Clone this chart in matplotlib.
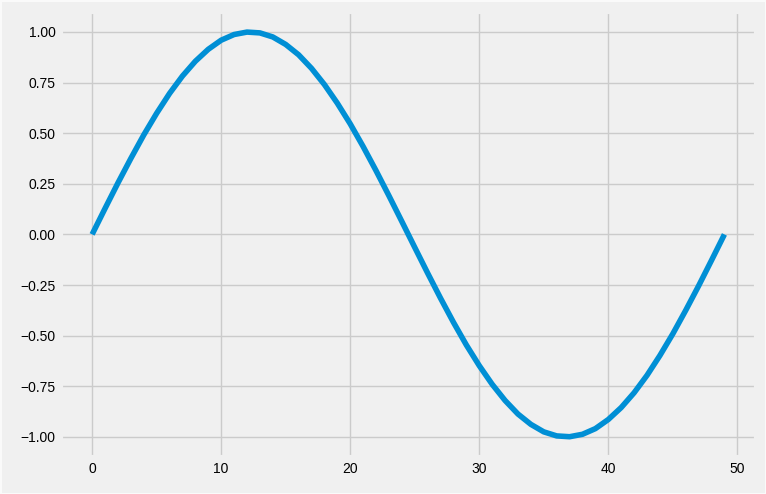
import matplotlib
matplotlib.use("Agg")
import matplotlib.pyplot as plt

plt.style.use("fivethirtyeight")
plt.rcParams["font.family"] = ["Liberation Sans", "DejaVu Sans"]

# sample index and the curve height
x_vals = list(range(50))
y_vals = [0.000, 0.128, 0.254, 0.375, 0.491, 0.598, 0.696, 0.782, 0.855, 0.914,
          0.959, 0.987, 0.999, 0.995, 0.975, 0.938, 0.887, 0.820, 0.740, 0.648,
          0.546, 0.434, 0.315, 0.191, 0.064, -0.064, -0.191, -0.315, -0.434, -0.546,
          -0.648, -0.740, -0.820, -0.887, -0.938, -0.975, -0.995, -0.999, -0.987, -0.959,
          -0.914, -0.855, -0.782, -0.696, -0.598, -0.491, -0.375, -0.254, -0.128, 0.000]

fig = plt.figure(figsize=(7.66, 4.94), dpi=100)
# thin light frame round the figure
fig.patch.set_edgecolor("#fafafa")
fig.patch.set_linewidth(2)
ax = fig.add_axes([0.079, 0.075, 0.908, 0.901])
ax.plot(x_vals, y_vals)
ax.tick_params(labelsize=10)

plt.savefig("out.png", dpi=100, edgecolor=fig.get_edgecolor())
plt.close()
